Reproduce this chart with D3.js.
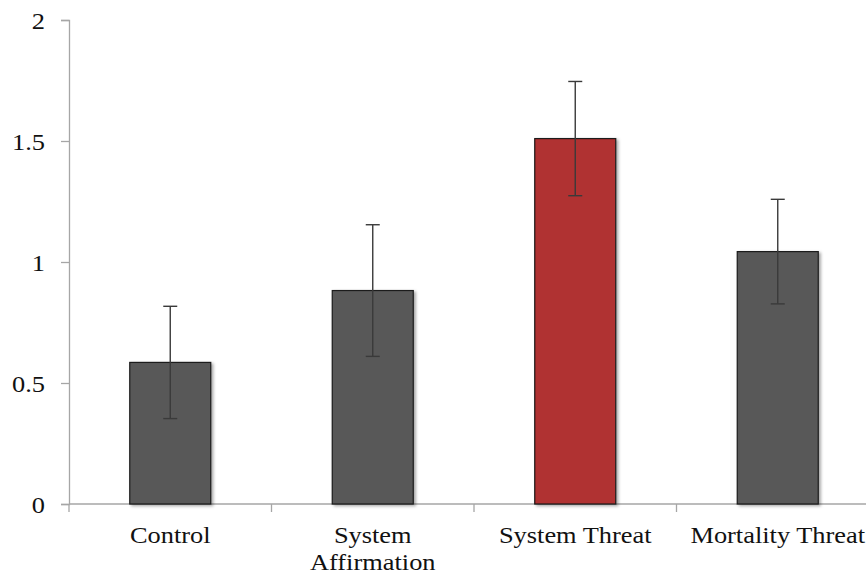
<!DOCTYPE html>
<html>
<head>
<meta charset="utf-8">
<script src="https://cdn.jsdelivr.net/npm/d3@7"></script>
<style>
  html, body { margin: 0; padding: 0; background: #fff; }
  svg { display: block; }
  text { font-family: "Liberation Serif", "Times New Roman", serif; fill: #111; }
</style>
</head>
<body>
<script>
const categories = ["Control", "System Affirmation", "System Threat", "Mortality Threat"];
const labelLines = [["Control"], ["System", "Affirmation"], ["System Threat"], ["Mortality Threat"]];
const means = [0.585, 0.882, 1.51, 1.043];
const errors = [0.232, 0.272, 0.236, 0.216];
const barColors = ["#595959", "#595959", "#B03030", "#595959"];
const yTicks = [0, 0.5, 1, 1.5, 2];
const yTickLabels = ["0", "0.5", "1", "1.5", "2"];

const W = 866, H = 578;
const svg = d3.select("body").append("svg").attr("width", W).attr("height", H);

const defs = svg.append("defs");
const f = defs.append("filter").attr("id", "shadow").attr("x", "-20%").attr("y", "-20%").attr("width", "140%").attr("height", "140%");
f.append("feDropShadow").attr("dx", 2).attr("dy", 1.5).attr("stdDeviation", 1.5).attr("flood-color", "#000").attr("flood-opacity", 0.35);

const x = d3.scaleBand().domain(categories).range([69, 879]).padding(0);
const y = d3.scaleLinear().domain([0, 2]).range([504, 20]);
const barW = x.bandwidth() * 0.4;
const FS = 24, SX = 1.1;

// y axis
const yAxis = svg.append("g").attr("transform", "translate(69,0)")
  .call(d3.axisLeft(y).tickValues(yTicks).tickFormat((d, i) => yTickLabels[i]).tickSize(8).tickPadding(0));
yAxis.select(".domain").attr("stroke", "#a6a6a6").attr("stroke-width", 1.3);
yAxis.selectAll(".tick line").attr("stroke", "#a6a6a6").attr("stroke-width", 1.3);
yAxis.selectAll(".tick text")
  .attr("font-size", FS).attr("font-family", "Liberation Serif").attr("fill", "#111")
  .attr("x", 0).attr("dy", "0.34em")
  .attr("transform", `translate(-24,0) scale(${SX},1)`);

// x axis line + ticks at band boundaries
svg.append("line").attr("x1", 69).attr("x2", 879).attr("y1", y(0)).attr("y2", y(0))
  .attr("stroke", "#a6a6a6").attr("stroke-width", 1.3);
const bounds = categories.map(c => x(c)).concat([x(categories[categories.length - 1]) + x.bandwidth()]);
svg.selectAll(".xt").data(bounds).enter().append("line")
  .attr("x1", d => d).attr("x2", d => d).attr("y1", y(0)).attr("y2", y(0) + 8)
  .attr("stroke", "#a6a6a6").attr("stroke-width", 1.3);

// bars
svg.selectAll(".bar").data(categories).enter().append("rect")
  .attr("x", (d) => x(d) + x.bandwidth() / 2 - barW / 2)
  .attr("y", (d, i) => y(means[i]))
  .attr("width", barW)
  .attr("height", (d, i) => y(0) - y(means[i]))
  .attr("fill", (d, i) => barColors[i])
  .attr("stroke", "#1a1a1a").attr("stroke-width", 1.2)
  .attr("filter", "url(#shadow)");

// error bars
const eg = svg.append("g").attr("stroke", "#3a3a3a").attr("stroke-width", 1.4);
categories.forEach((c, i) => {
  const cx = x(c) + x.bandwidth() / 2;
  const hi = y(means[i] + errors[i]), lo = y(means[i] - errors[i]);
  eg.append("line").attr("x1", cx).attr("x2", cx).attr("y1", hi).attr("y2", lo);
  eg.append("line").attr("x1", cx - 7).attr("x2", cx + 7).attr("y1", hi).attr("y2", hi);
  eg.append("line").attr("x1", cx - 7).attr("x2", cx + 7).attr("y1", lo).attr("y2", lo);
});

// x labels
categories.forEach((c, i) => {
  const cx = x(c) + x.bandwidth() / 2;
  labelLines[i].forEach((ln, j) => {
    svg.append("text")
      .attr("transform", `translate(${cx},${543 + j * 27}) scale(${SX},1)`)
      .attr("text-anchor", "middle").attr("font-size", FS).text(ln);
  });
});
</script>
</body>
</html>
